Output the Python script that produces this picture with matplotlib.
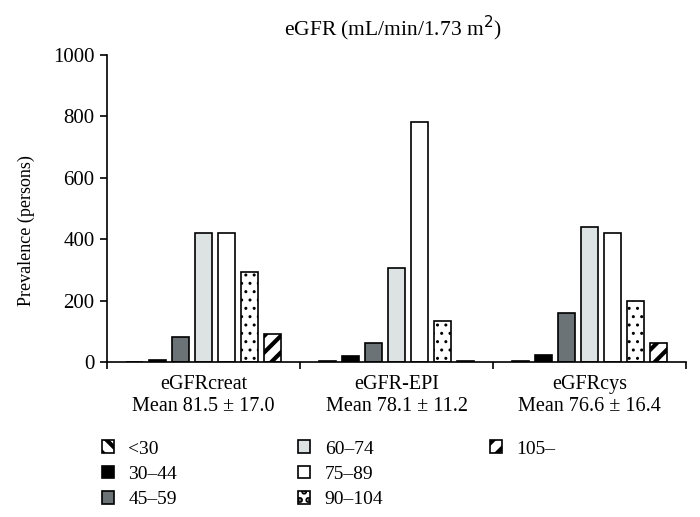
import numpy as np
import matplotlib
matplotlib.use("Agg")
from matplotlib import pyplot as plt

groups = ["eGFRcreat\nMean 81.5 ± 17.0", "eGFR-EPI\nMean 78.1 ± 11.2", "eGFRcys\nMean 76.6 ± 16.4"]
bins = ["<30", "30\u201344", "45\u201359", "60\u201374", "75\u201389", "90\u2013104", "105\u2013"]

# prevalence per eGFR bin, one list per equation
v_lt30 = [0, 4, 3]
v_30_44 = [7, 21, 22]
v_45_59 = [81, 61, 161]
v_60_74 = [420, 305, 440]
v_75_89 = [420, 782, 420]
v_90_104 = [294, 135, 199]
v_105 = [91, 2, 62]
series = [v_lt30, v_30_44, v_45_59, v_60_74, v_75_89, v_90_104, v_105]

faces = ["white", "black", "#6b7376", "#dde2e2", "white", "white", "white"]
hatches = ["\\\\", None, None, None, None, "..", "//"]
hatch_lw = [3.0, 1.0, 1.0, 1.0, 1.0, 1.0, 3.0]

plt.rcParams['font.family'] = ['Liberation Serif', 'DejaVu Serif']

fig = plt.figure(figsize=(7, 5.17), dpi=100)
ax = fig.add_axes([0.153, 0.2998, 0.827, 0.5938])

x = np.arange(len(groups))
pitch = 0.119
width = 0.088
bars = []
for i, vals in enumerate(series):
    plt.rcParams['hatch.linewidth'] = hatch_lw[i]
    b = ax.bar(x + (i - 3) * pitch, vals, width, color=faces[i], edgecolor="black",
               linewidth=1.2, hatch=hatches[i], label=bins[i])
    bars.append(b)

ax.set_xlim(-0.5, 2.5)
ax.set_ylim(0, 1000)
ax.set_yticks([0, 200, 400, 600, 800, 1000])
ax.tick_params(axis='y', labelsize=15, length=5, width=1.2, direction='out', pad=4)
ax.set_xticks(x)
ax.set_xticklabels(groups, fontsize=14.5)
for t in ax.get_xticklabels():
    t.set_linespacing(1.25)
ax.tick_params(axis='x', which='major', length=0, pad=9)
ax.set_xticks([-0.5, 0.5, 1.5, 2.5], minor=True)
ax.tick_params(axis='x', which='minor', length=5, width=1.2, direction='out')
for s in ["top", "right"]:
    ax.spines[s].set_visible(False)
for s in ["left", "bottom"]:
    ax.spines[s].set_linewidth(1.2)

ax.set_ylabel("Prevalence (persons)", fontsize=13)
ax.yaxis.set_label_coords(-0.125, 0.427)
fig.text(0.561, 0.946, "eGFR (mL/min/1.73 m$^2$)", ha="center", va="center", fontsize=15.5)

# legend as three columns placed by hand
cols = [(0, 3, 0.145), (3, 6, 0.426), (6, 7, 0.700)]
for a, b, xpos in cols:
    fig.legend([bars[k] for k in range(a, b)], bins[a:b], loc="upper left",
               bbox_to_anchor=(xpos, 0.148), borderpad=0, borderaxespad=0,
               frameon=False, fontsize=14, handlelength=0.62, handleheight=0.62,
               handletextpad=0.75, labelspacing=0.42)

fig.savefig("out.png", dpi=100)
